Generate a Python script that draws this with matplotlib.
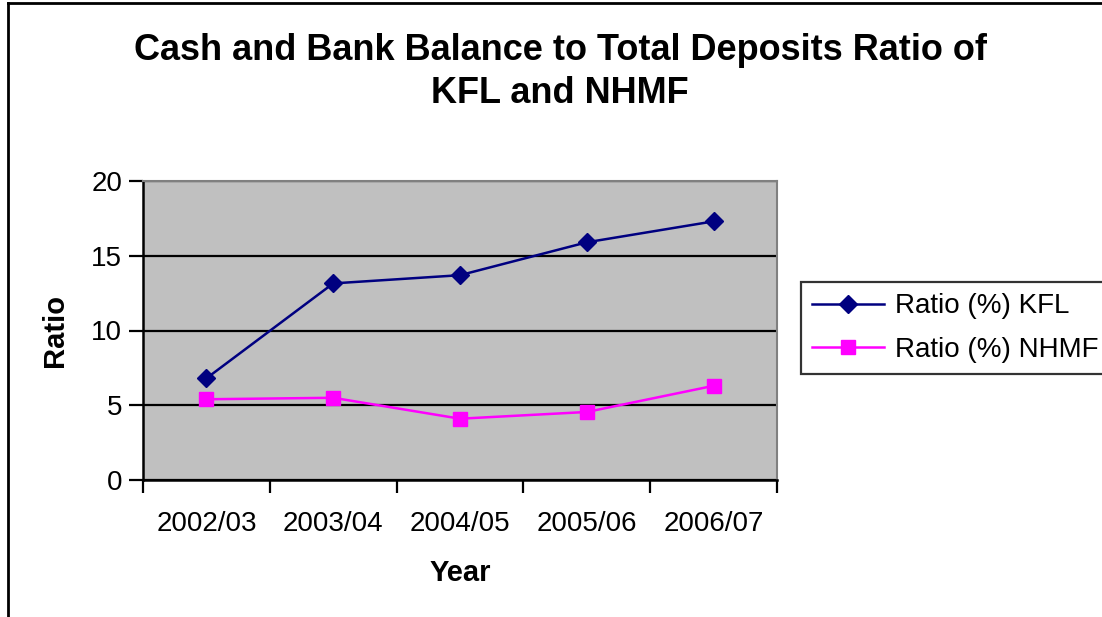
import matplotlib
matplotlib.use("Agg")
import matplotlib.pyplot as plt
from matplotlib.lines import Line2D

plt.rcParams['font.family'] = ['Liberation Sans', 'DejaVu Sans']

years = ["2002/03", "2003/04", "2004/05", "2005/06", "2006/07"]
kfl = [6.8, 13.15, 13.7, 15.9, 17.3]
nhmf = [5.4, 5.5, 4.1, 4.55, 6.3]

fig = plt.figure(figsize=(11.02, 6.17), dpi=100)
ax = fig.add_axes([143 / 1102, 1 - 480 / 617, 634 / 1102, 299 / 617])

x = range(len(years))
ax.plot(x, kfl, color="#000080", lw=1.8, marker="D", ms=9, label="Ratio (%) KFL")
ax.plot(x, nhmf, color="#FF00FF", lw=1.8, marker="s", ms=10, label="Ratio (%) NHMF")

ax.set_facecolor("#C0C0C0")
ax.set_xlim(-0.5, len(years) - 0.5)
ax.set_ylim(0, 20)
ax.set_yticks([0, 5, 10, 15, 20])
ax.yaxis.grid(True, color="black", lw=1.6)
ax.set_axisbelow(True)

# category boundaries get the tick marks, category centres get the labels
ax.set_xticks([i - 0.5 for i in range(len(years) + 1)], minor=False)
ax.set_xticklabels([])
ax.set_xticks(list(x), minor=True)
ax.set_xticklabels(years, minor=True)
ax.tick_params(axis="x", which="major", direction="out", length=9, width=1.6)
ax.tick_params(axis="x", which="minor", length=0, pad=22, labelsize=20)
ax.tick_params(axis="y", direction="out", length=10, width=1.6, labelsize=20, pad=5)

for s in ("top", "right"):
    ax.spines[s].set_color("#808080")
    ax.spines[s].set_linewidth(1.5)
for s in ("left", "bottom"):
    ax.spines[s].set_color("black")
    ax.spines[s].set_linewidth(1.8)

ax.set_xlabel("Year", fontsize=21, fontweight="bold", labelpad=16)
ax.set_ylabel("Ratio", fontsize=21, fontweight="bold", labelpad=16)

fig.text(560 / 1102, 1 - 72 / 617,
         "Cash and Bank Balance to Total Deposits Ratio of\nKFL and NHMF",
         ha="center", va="center", fontsize=26, fontweight="bold", linespacing=1.32)

leg = ax.legend(loc="center left", bbox_to_anchor=(801 / 1102, 1 - 328 / 617),
                bbox_transform=fig.transFigure, fontsize=20, frameon=True,
                fancybox=False, edgecolor="black", borderpad=0.4,
                handlelength=2.6, handletextpad=0.4, labelspacing=0.62,
                borderaxespad=0)
leg.get_frame().set_linewidth(1.6)

# outer chart frame
fig.add_artist(Line2D([8 / 1102, 1], [1 - 3 / 617, 1 - 3 / 617], color="black", lw=2,
                      transform=fig.transFigure))
fig.add_artist(Line2D([8 / 1102, 8 / 1102], [0, 1 - 3 / 617], color="black", lw=2,
                      transform=fig.transFigure))

fig.savefig("out.png", dpi=100)
